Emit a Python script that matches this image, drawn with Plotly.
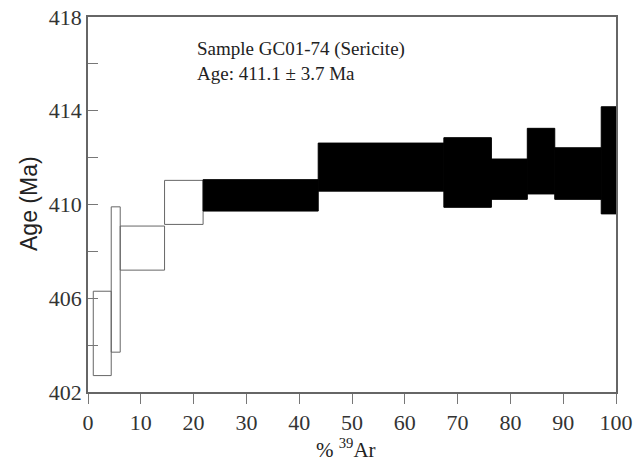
import plotly.graph_objects as go

# Step-heating data (cumulative % 39Ar, age range in Ma)
cum_start = [1.0, 4.4, 6.1, 14.5, 21.8, 43.6, 67.4, 76.4, 83.2, 88.4, 97.2]
cum_end   = [4.4, 6.1, 14.5, 21.8, 43.6, 67.4, 76.4, 83.2, 88.4, 97.2, 100.0]
age_low   = [402.7, 403.7, 407.2, 409.15, 409.72, 410.57, 409.88, 410.22, 410.45, 410.22, 409.6]
age_high  = [406.3, 409.9, 409.08, 411.03, 411.06, 412.62, 412.85, 411.94, 413.25, 412.42, 414.17]
plateau   = [False, False, False, False, True, True, True, True, True, True, True]

x_ticks = [0, 10, 20, 30, 40, 50, 60, 70, 80, 90, 100]
y_ticks = [402, 406, 410, 414, 418]

title_lines = ["Sample GC01-74 (Sericite)", "Age: 411.1 ± 3.7 Ma"]

serif = "Liberation Serif, Times New Roman, serif"
sans = "Liberation Sans, Arial, sans-serif"

fig = go.Figure()

def add_steps(flag, fill, line_color, line_width):
    xs, ws, bs, hs = [], [], [], []
    for s, e, lo, hi, p in zip(cum_start, cum_end, age_low, age_high, plateau):
        if p == flag:
            xs.append((s + e) / 2)
            ws.append(e - s)
            bs.append(lo)
            hs.append(hi - lo)
    fig.add_trace(go.Bar(
        x=xs, y=hs, base=bs, width=ws,
        marker=dict(color=fill, line=dict(color=line_color, width=line_width)),
        showlegend=False, hoverinfo="skip",
    ))

add_steps(False, "rgba(255,255,255,0)", "#666666", 1)
add_steps(True, "#000000", "#000000", 1)

fig.update_layout(
    width=636, height=463,
    margin=dict(l=88, r=20, t=17, b=71, autoexpand=False),
    paper_bgcolor="white", plot_bgcolor="white",
    barmode="overlay",
    showlegend=False,
    font=dict(family=serif, size=21, color="#333333"),
)

fig.update_xaxes(
    range=[0, 100], tickvals=x_ticks, ticktext=[str(v) for v in x_ticks],
    showgrid=False, zeroline=False, automargin=False,
    showline=True, linecolor="#666666", linewidth=1.5, mirror=True,
    ticks="outside", ticklen=10, tickwidth=1, tickcolor="#777777",
    tickfont=dict(family=serif, size=22, color="#333333"),
)
fig.update_yaxes(
    range=[402, 418], tickvals=y_ticks, ticktext=[str(v) for v in y_ticks],
    showgrid=False, zeroline=False, automargin=False,
    showline=True, linecolor="#666666", linewidth=1.5, mirror=True,
    ticks="inside", ticklen=10, tickwidth=1, tickcolor="#777777",
    minor=dict(tickvals=[404, 408, 412, 416], ticks="inside", ticklen=10, tickcolor="#777777", tickwidth=1),
    tickfont=dict(family=serif, size=22, color="#333333"),
)

fig.add_annotation(
    text="<br>".join(title_lines), xref="paper", yref="paper",
    x=(195 - 88) / 528, y=(392 - 36) / 375, xanchor="left", yanchor="top",
    align="left", showarrow=False,
    font=dict(family=serif, size=19, color="#222222"),
)
fig.add_annotation(
    text="Age (Ma)", xref="paper", yref="paper",
    x=(29 - 88) / 528, y=(392 - 204) / 375, xanchor="center", yanchor="middle",
    textangle=-90, showarrow=False,
    font=dict(family=sans, size=23, color="#222222"),
)
fig.add_annotation(
    text="% <sup>39</sup>Ar", xref="paper", yref="paper",
    x=(346 - 88) / 528, y=0, yshift=-(463 - 392), xanchor="center", yanchor="bottom",
    showarrow=False, borderpad=0,
    font=dict(family=serif, size=21, color="#222222"),
)

fig.write_html("out.html")
